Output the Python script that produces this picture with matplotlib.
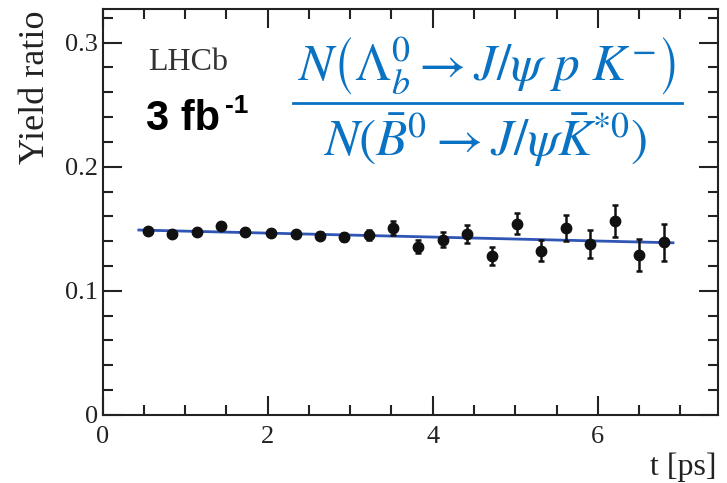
import matplotlib
matplotlib.use("Agg")
import matplotlib.pyplot as plt
from matplotlib.ticker import MultipleLocator

# yield ratio per decay-time bin
t = [0.55, 0.84, 1.14, 1.44, 1.73, 2.04, 2.34, 2.63, 2.93, 3.23, 3.52,
     3.82, 4.12, 4.42, 4.72, 5.02, 5.31, 5.61, 5.91, 6.21, 6.50, 6.80]
ratio = [0.1486, 0.1457, 0.1473, 0.1519, 0.1473, 0.1465, 0.1457, 0.1444,
         0.1433, 0.1449, 0.1506, 0.1357, 0.1411, 0.1457, 0.1282, 0.1540,
         0.1323, 0.1510, 0.1377, 0.1565, 0.1290, 0.1390]
err = [0.0015, 0.0016, 0.0018, 0.0020, 0.0021, 0.0023, 0.0025, 0.0028,
       0.0035, 0.0040, 0.0054, 0.0050, 0.0060, 0.0073, 0.0075, 0.0085,
       0.0086, 0.0105, 0.0110, 0.0130, 0.0128, 0.0148]

# linear fit drawn over the plotted range
fit_t = [0.44, 6.91]
fit_y = [0.1490, 0.1387]

plt.rcParams['font.family'] = ['Liberation Serif']
plt.rcParams['mathtext.fontset'] = 'stix'

fig = plt.figure(figsize=(7.27, 4.83), dpi=100)
ax = fig.add_axes([0.141, 0.141, 0.846, 0.840])

ax.plot(fit_t, fit_y, color='#2f55b5', lw=2, zorder=2)
ax.errorbar(t, ratio, yerr=err, fmt='o', color='#111111', ms=7.5,
            elinewidth=1.8, capsize=2.5, capthick=1.8, zorder=3)

ax.set_xlim(0, 7.45)
ax.set_ylim(0, 0.327)
ax.xaxis.set_major_locator(MultipleLocator(2))
ax.xaxis.set_minor_locator(MultipleLocator(0.5))
ax.yaxis.set_major_locator(MultipleLocator(0.1))
ax.yaxis.set_minor_locator(MultipleLocator(0.02))
ax.tick_params(which='both', direction='in', top=True, right=True,
               width=1.5, labelsize=19, colors='#222222')
ax.tick_params(which='major', length=14)
ax.tick_params(which='minor', length=7)
ax.tick_params(axis='x', pad=8)
for s in ax.spines.values():
    s.set_linewidth(1.5)
    s.set_color('#222222')

ax.yaxis.set_major_formatter(plt.FuncFormatter(lambda v, p: '0' if v == 0 else '%.1f' % v))

fig.text(35 / 727, 1 - 10 / 483, 'Yield ratio', rotation=90, ha='center',
         va='top', fontsize=26, color='#222222')
fig.text(717 / 727, 1 - 467 / 483, 't [ps]', ha='right', va='center',
         fontsize=23, color='#222222')

fig.text(148 / 727, 1 - 63 / 483, 'LHCb', ha='left', va='center',
         fontsize=23, color='#333333')
fig.text(146 / 727, 1 - 119 / 483, '3 fb', ha='left', va='center',
         fontsize=30, fontweight='bold', family='Liberation Sans')
fig.text(225 / 727, 1 - 106 / 483, '-1', ha='left', va='center',
         fontsize=19, fontweight='bold', family='Liberation Sans')

blue = '#0a72c2'
fig.text(486 / 727, 1 - 66 / 483,
         r'$N\left(\Lambda_b^0 \rightarrow J/\psi\ p\ K^{-}\right)$',
         ha='center', va='center', fontsize=37, color=blue)
fig.text(485 / 727, 1 - 140 / 483,
         r'$N(\bar{B}^0 \rightarrow J/\psi\bar{K}^{*0})$',
         ha='center', va='center', fontsize=37, color=blue)
fig.add_artist(plt.Line2D([293 / 727, 682 / 727], [1 - 103 / 483, 1 - 103 / 483],
                          color=blue, lw=2))

fig.savefig('out.png', dpi=100)
